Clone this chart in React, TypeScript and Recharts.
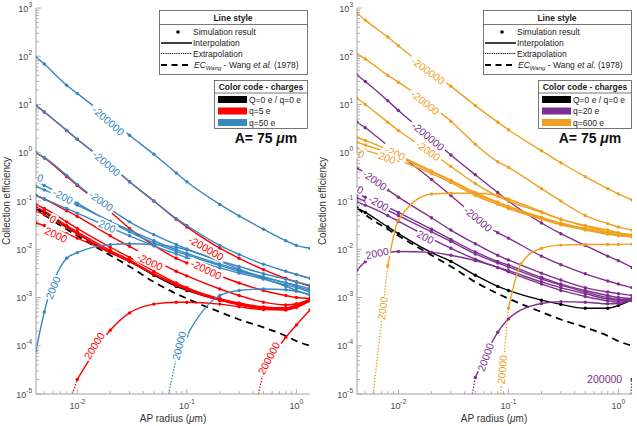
import React from 'react';
import { LineChart, Line, XAxis, YAxis, ReferenceDot } from 'recharts';

const RED = '#ff0000';
const BLUE = '#3787c0';
const PURPLE = '#7e2f8e';
const ORANGE = '#f0a020';
const BLACK = '#000000';
const AXIS = '#a0a0a0';
const TICK_TEXT = '#4a4a4a';
const FONT = '"Liberation Sans", Arial, Helvetica, sans-serif';

const X_DOMAIN = [0.0042, 1.33];
const Y_DOMAIN = [1e-5, 1e3];

// AP radius of the simulated points (um)
const radius = [0.0042, 0.005, 0.008, 0.01, 0.02, 0.03, 0.05, 0.08, 0.1, 0.2, 0.3, 0.5, 0.8, 1, 1.33];

// reference + uncharged case (both panels)
const ecWang = [0.072, 0.052, 0.026, 0.019, 0.0075, 0.0044, 0.0021, 0.0012, 0.00095, 0.0005, 0.00035, 0.00024, 0.00016, 0.000125, 0.0001];
const neutral = [0.072, 0.058, 0.029, 0.021, 0.0085, 0.0056, 0.0029, 0.0017, 0.0014, 0.00088, 0.00072, 0.0006, 0.0006, 0.00068, 0.0009];

// q = 5 e (red), by droplet charge Q
const q5_m200000 = [9.5, 7, 2.9, 1.9, 0.55, 0.25, 0.1, 0.042, 0.029, 0.0105, 0.0065, 0.0038, 0.0025, 0.0021, 0.0017];
const q5_m20000 = [1.0, 0.78, 0.32, 0.21, 0.06, 0.027, 0.012, 0.0065, 0.0052, 0.0028, 0.002, 0.0014, 0.0011, 0.001, 0.00095];
const q5_m2000 = [0.13, 0.11, 0.063, 0.048, 0.019, 0.0115, 0.006, 0.0035, 0.0028, 0.0015, 0.0011, 0.0008, 0.0007, 0.00074, 0.00092];
const q5_m200 = [0.085, 0.07, 0.037, 0.027, 0.011, 0.0068, 0.0035, 0.002, 0.0016, 0.00095, 0.00077, 0.00064, 0.00061, 0.0007, 0.0009];
const q5_0 = [0.075, 0.062, 0.031, 0.023, 0.0095, 0.006, 0.0031, 0.0018, 0.0015, 0.0009, 0.00074, 0.00062, 0.0006, 0.00068, 0.00089];
const q5_200 = [0.062, 0.052, 0.028, 0.021, 0.0088, 0.0057, 0.003, 0.0018, 0.00145, 0.00088, 0.00072, 0.0006, 0.00059, 0.00067, 0.00088];
const q5_2000 = [0.035, 0.031, 0.021, 0.017, 0.0085, 0.0055, 0.0031, 0.0019, 0.0015, 0.00088, 0.0007, 0.00058, 0.00056, 0.00064, 0.00087];
const q5_20000 = [null, null, null, 2e-5, 2.1e-4, 4.8e-4, 7.3e-4, 8e-4, 8e-4, 7.3e-4, 6.4e-4, 5.6e-4, 5.5e-4, 6.2e-4, 8.5e-4];
const q5_200000 = [null, null, null, null, null, null, null, null, null, null, null, 3e-5, 1.5e-4, 2.7e-4, 5.5e-4];
const q5_20000_extR = [0.009, 0.01];
const q5_20000_extEC = [1e-5, 2e-5];
const q5_200000_extR = [0.45, 0.5];
const q5_200000_extEC = [1e-5, 3e-5];

// q = 50 e (blue)
const q50_m200000 = [96, 69, 25, 17, 4.9, 2.3, 0.93, 0.38, 0.25, 0.085, 0.049, 0.026, 0.015, 0.012, 0.0105];
const q50_m20000 = [9.5, 7, 2.9, 1.9, 0.55, 0.25, 0.1, 0.043, 0.031, 0.012, 0.0078, 0.0049, 0.0035, 0.003, 0.0025];
const q50_m2000 = [1.0, 0.8, 0.34, 0.22, 0.068, 0.037, 0.02, 0.0125, 0.0102, 0.0058, 0.0044, 0.0031, 0.0024, 0.0021, 0.0018];
const q50_m200 = [0.2, 0.17, 0.105, 0.082, 0.038, 0.025, 0.015, 0.0098, 0.0082, 0.0049, 0.0037, 0.0027, 0.002, 0.0018, 0.0015];
const q50_0 = [0.26, 0.21, 0.12, 0.09, 0.037, 0.023, 0.0135, 0.009, 0.0076, 0.0046, 0.0035, 0.0026, 0.002, 0.0017, 0.0014];
const q50_200 = [0.13, 0.11, 0.07, 0.056, 0.028, 0.019, 0.0118, 0.008, 0.0067, 0.0041, 0.0032, 0.0024, 0.0018, 0.0016, 0.0013];
const q50_2000 = [8e-5, 5e-4, 6.5e-3, 8.5e-3, 0.0125, 0.013, 0.0125, 0.011, 0.0097, 0.0056, 0.0039, 0.0025, 0.0017, 0.0014, 0.0011];
const q50_20000 = [null, null, null, null, null, null, null, 5.6e-5, 1.6e-4, 1.1e-3, 1.4e-3, 1.5e-3, 1.45e-3, 1.35e-3, 1.15e-3];
const q50_20000_extR = [0.068, 0.08];
const q50_20000_extEC = [1e-5, 5.6e-5];

// q = 20 e (purple)
const q20_m200000 = [41, 30, 12, 7.5, 2.0, 0.9, 0.35, 0.15, 0.1, 0.035, 0.021, 0.012, 0.0072, 0.0058, 0.0042];
const q20_m20000 = [4.3, 3.3, 1.4, 0.95, 0.28, 0.13, 0.048, 0.022, 0.017, 0.0072, 0.0048, 0.0031, 0.0022, 0.0019, 0.0016];
const q20_m2000 = [0.48, 0.38, 0.17, 0.12, 0.045, 0.025, 0.013, 0.0075, 0.006, 0.0032, 0.0023, 0.0016, 0.0013, 0.0012, 0.0011];
const q20_m200 = [0.14, 0.12, 0.075, 0.058, 0.026, 0.016, 0.0088, 0.0056, 0.0047, 0.0026, 0.0019, 0.0014, 0.0011, 0.001, 0.00095];
const q20_0 = [0.115, 0.1, 0.064, 0.05, 0.023, 0.0145, 0.008, 0.0052, 0.0043, 0.0024, 0.0018, 0.0013, 0.001, 0.00092, 0.0009];
const q20_200 = [0.095, 0.082, 0.05, 0.038, 0.0165, 0.0105, 0.0062, 0.0042, 0.0036, 0.0021, 0.0016, 0.0012, 0.00093, 0.00087, 0.00086];
const q20_2000 = [0.0037, 0.0055, 0.0085, 0.009, 0.0086, 0.0075, 0.0058, 0.0042, 0.0034, 0.0019, 0.0014, 0.00105, 0.00085, 0.0008, 0.00088];
const q20_20000 = [null, null, null, null, null, null, 2.2e-5, 1.9e-4, 3.6e-4, 7.5e-4, 8.2e-4, 8e-4, 7.4e-4, 7.5e-4, 9e-4];
const q20_200000 = [null, null, null, null, null, null, null, null, null, null, null, null, null, null, 2e-5];
const q20_20000_extR = [0.047, 0.05];
const q20_20000_extEC = [1e-5, 2.2e-5];
const q20_200000_extR = [1.3, 1.33];
const q20_200000_extEC = [1e-5, 2e-5];

// q = 600 e (orange)
const q600_m200000 = [790, 560, 250, 165, 48, 24, 9.5, 4.3, 3.0, 1.1, 0.62, 0.32, 0.18, 0.14, 0.105];
const q600_m20000 = [112, 88, 40, 29, 9.5, 4.5, 1.5, 0.65, 0.5, 0.18, 0.1, 0.05, 0.034, 0.029, 0.025];
const q600_m2000 = [13.5, 10, 4.3, 2.9, 1.0, 0.52, 0.23, 0.125, 0.1, 0.058, 0.042, 0.031, 0.025, 0.022, 0.02];
const q600_m200 = [2.1, 1.8, 1.15, 0.9, 0.42, 0.27, 0.15, 0.095, 0.078, 0.046, 0.035, 0.027, 0.022, 0.02, 0.019];
const q600_0 = [1.65, 1.45, 1.0, 0.82, 0.4, 0.26, 0.14, 0.09, 0.074, 0.044, 0.033, 0.026, 0.021, 0.0195, 0.0185];
const q600_200 = [1.25, 1.12, 0.82, 0.7, 0.37, 0.24, 0.13, 0.085, 0.07, 0.042, 0.032, 0.025, 0.0205, 0.019, 0.018];
const q600_2000 = [null, null, 0.0045, 0.04, 0.14, 0.145, 0.145, 0.13, 0.11, 0.06, 0.042, 0.03, 0.023, 0.021, 0.019];
const q600_20000R = [0.1, 0.13, 0.2, 0.3, 0.5, 0.8, 1, 1.33];
const q600_20000 = [6e-4, 5e-3, 0.0105, 0.0122, 0.0125, 0.0125, 0.0126, 0.0128];
const q600_2000_extR = [0.0059, 0.008];
const q600_2000_extEC = [1e-5, 0.0045];
const q600_20000_extR = [0.085, 0.1];
const q600_20000_extEC = [1e-5, 6e-4];

// curve labels (droplet charge Q)
const leftLabels = [
  { x: 0.0192, y: 4.6, text: '-200000', color: BLUE, angle: 41 },
  { x: 0.0185, y: 0.6, text: '-20000', color: BLUE, angle: 41 },
  { x: 0.0165, y: 0.1, text: '-2000', color: BLUE, angle: 36 },
  { x: 0.0074, y: 0.125, text: '-200', color: BLUE, angle: 28 },
  { x: 0.0046, y: 0.3, text: '0', color: BLUE, angle: 20 },
  { x: 0.0188, y: 0.03, text: '200', color: BLUE, angle: 25 },
  { x: 0.006, y: 0.0016, text: '2000', color: BLUE, angle: -68 },
  { x: 0.085, y: 0.0001, text: '20000', color: BLUE, angle: -76 },
  { x: 0.15, y: 0.0105, text: '-200000', color: RED, angle: 30 },
  { x: 0.15, y: 0.0038, text: '-20000', color: RED, angle: 25 },
  { x: 0.046, y: 0.0055, text: '-2000', color: RED, angle: 25 },
  { x: 0.006, y: 0.042, text: '0', color: RED, angle: 30 },
  { x: 0.0064, y: 0.02, text: '2000', color: RED, angle: 25 },
  { x: 0.0143, y: 0.0001, text: '20000', color: RED, angle: -58 },
  { x: 0.56, y: 0.000055, text: '200000', color: RED, angle: -62 },
];

const rightLabels = [
  { x: 0.0186, y: 50, text: '-200000', color: ORANGE, angle: 36 },
  { x: 0.0175, y: 11, text: '-20000', color: ORANGE, angle: 38 },
  { x: 0.0186, y: 2.2, text: '-200000', color: PURPLE, angle: 40 },
  { x: 0.0186, y: 1.1, text: '-2000', color: ORANGE, angle: 36 },
  { x: 0.0093, y: 0.98, text: '-200', color: ORANGE, angle: 25 },
  { x: 0.0046, y: 0.95, text: '0', color: ORANGE, angle: 25 },
  { x: 0.0079, y: 0.78, text: '200', color: ORANGE, angle: 20 },
  { x: 0.053, y: 0.042, text: '-20000', color: PURPLE, angle: 40 },
  { x: 0.0061, y: 0.27, text: '-2000', color: PURPLE, angle: 35 },
  { x: 0.0045, y: 0.17, text: '0', color: PURPLE, angle: 25 },
  { x: 0.0066, y: 0.09, text: '-200', color: PURPLE, angle: 30 },
  { x: 0.0176, y: 0.018, text: '200', color: PURPLE, angle: 28 },
  { x: 0.0064, y: 0.0083, text: '2000', color: PURPLE, angle: -12 },
  { x: 0.062, y: 0.000058, text: '20000', color: PURPLE, angle: -70 },
  { x: 0.0072, y: 0.0006, text: '2000', color: ORANGE, angle: -82 },
  { x: 0.088, y: 0.000032, text: '20000', color: ORANGE, angle: -85 },
  { x: 0.75, y: 0.00002, text: '200000', color: PURPLE, angle: 0 },
];

const xTicks: number[] = [];
[0.001, 0.01, 0.1].forEach((d) => {
  for (let k = 1; k <= 9; k++) {
    const v = +(k * d).toPrecision(3);
    if (v >= X_DOMAIN[0] && v <= X_DOMAIN[1]) xTicks.push(v);
  }
});
xTicks.push(1);
const yTicks: number[] = [];
for (let e = -5; e < 3; e++) {
  for (let k = 1; k <= 9; k++) yTicks.push(+(k * Math.pow(10, e)).toPrecision(3));
}
yTicks.push(1000);

const isMajor = (v: number) => Math.abs(Math.log10(v) - Math.round(Math.log10(v))) < 1e-6;
const expOf = (v: number) => String(Math.round(Math.log10(v)));

const pts = (xs: number[], ys: (number | null)[]) =>
  xs.map((x, i) => ({ x, y: ys[i] })).filter((p) => p.y != null);

type Curve = { key: string; data: any[]; color: string; style: 'solid' | 'dotted' | 'dashed'; markers: boolean };

const solid = (key: string, ys: (number | null)[], color: string, xs = radius): Curve => ({ key, data: pts(xs, ys), color, style: 'solid', markers: true });
const dotted = (key: string, xs: number[], ys: number[], color: string): Curve => ({ key, data: pts(xs, ys), color, style: 'dotted', markers: false });

const baseCurves: Curve[] = [
  { key: 'wang', data: pts(radius, ecWang), color: BLACK, style: 'dashed', markers: false },
  solid('neutral', neutral, BLACK),
];

const leftCurves: Curve[] = [
  ...baseCurves,
  solid('r-200000', q5_m200000, RED),
  solid('r-20000', q5_m20000, RED),
  solid('r-2000', q5_m2000, RED),
  solid('r-200', q5_m200, RED),
  solid('r0', q5_0, RED),
  solid('r200', q5_200, RED),
  solid('r2000', q5_2000, RED),
  solid('r20000', q5_20000, RED),
  solid('r200000', q5_200000, RED),
  dotted('r20000x', q5_20000_extR, q5_20000_extEC, RED),
  dotted('r200000x', q5_200000_extR, q5_200000_extEC, RED),
  solid('b-200000', q50_m200000, BLUE),
  solid('b-20000', q50_m20000, BLUE),
  solid('b-2000', q50_m2000, BLUE),
  solid('b-200', q50_m200, BLUE),
  solid('b0', q50_0, BLUE),
  solid('b200', q50_200, BLUE),
  solid('b2000', q50_2000, BLUE),
  solid('b20000', q50_20000, BLUE),
  dotted('b20000x', q50_20000_extR, q50_20000_extEC, BLUE),
];

const rightCurves: Curve[] = [
  ...baseCurves,
  solid('p-200000', q20_m200000, PURPLE),
  solid('p-20000', q20_m20000, PURPLE),
  solid('p-2000', q20_m2000, PURPLE),
  solid('p-200', q20_m200, PURPLE),
  solid('p0', q20_0, PURPLE),
  solid('p200', q20_200, PURPLE),
  solid('p2000', q20_2000, PURPLE),
  solid('p20000', q20_20000, PURPLE),
  solid('p200000', q20_200000, PURPLE),
  dotted('p20000x', q20_20000_extR, q20_20000_extEC, PURPLE),
  dotted('p200000x', q20_200000_extR, q20_200000_extEC, PURPLE),
  solid('o-200000', q600_m200000, ORANGE),
  solid('o-20000', q600_m20000, ORANGE),
  solid('o-2000', q600_m2000, ORANGE),
  solid('o-200', q600_m200, ORANGE),
  solid('o0', q600_0, ORANGE),
  solid('o200', q600_200, ORANGE),
  solid('o2000', q600_2000, ORANGE),
  solid('o20000', q600_20000, ORANGE, q600_20000R),
  dotted('o2000x', q600_2000_extR, q600_2000_extEC, ORANGE),
  dotted('o20000x', q600_20000_extR, q600_20000_extEC, ORANGE),
];

const XTick = (p: any) => {
  const { x, y, payload, side } = p;
  const v = payload.value;
  const major = isMajor(v);
  const len = major ? 5 : 3;
  const dir = side === 'bottom' ? -1 : 1;
  return (
    <g>
      <line x1={x} x2={x} y1={y} y2={y + dir * len} stroke={AXIS} strokeWidth={0.8} />
      {major && side === 'bottom' && (
        <text x={x} y={y + 15} textAnchor="middle" fontSize={9} fill={TICK_TEXT} fontFamily={FONT}>
          10<tspan dy={-5} fontSize={6.5}>{expOf(v)}</tspan>
        </text>
      )}
    </g>
  );
};

const YTick = (p: any) => {
  const { x, y, payload, side } = p;
  const v = payload.value;
  const major = isMajor(v);
  const len = major ? 5 : 3;
  const dir = side === 'left' ? 1 : -1;
  return (
    <g>
      <line x1={x} x2={x + dir * len} y1={y} y2={y} stroke={AXIS} strokeWidth={0.8} />
      {major && side === 'left' && (
        <text x={x - 4} y={y + 3.5} textAnchor="end" fontSize={9} fill={TICK_TEXT} fontFamily={FONT}>
          10<tspan dy={-5} fontSize={6.5}>{expOf(v)}</tspan>
        </text>
      )}
    </g>
  );
};

const CurveLabel = ({ cx, cy, text, color, angle }: any) => {
  const w = text.length * 5.9 + 2;
  return (
    <g transform={`translate(${cx},${cy}) rotate(${angle})`}>
      <rect x={-w / 2} y={-5.5} width={w} height={11} fill="#ffffff" />
      <text x={0} y={3.8} textAnchor="middle" fontSize={10.5} fill={color} fontFamily={FONT}>
        {text}
      </text>
    </g>
  );
};

function Panel({ left, width, rightMargin, curves, labels }: any) {
  return (
    <div style={{ position: 'absolute', left, top: 0 }}>
      <LineChart width={width} height={426} margin={{ top: 8, right: rightMargin, bottom: 0, left: 0 }}>
        <XAxis xAxisId="b" dataKey="x" type="number" scale="log" domain={X_DOMAIN} allowDataOverflow
          ticks={xTicks} interval={0} tickSize={0} tickMargin={0} tickLine={false} stroke={AXIS} height={32}
          tick={(p: any) => <XTick {...p} side="bottom" />} />
        <XAxis xAxisId="t" orientation="top" dataKey="x" type="number" scale="log" domain={X_DOMAIN} allowDataOverflow
          ticks={xTicks} interval={0} tickSize={0} tickMargin={0} tickLine={false} stroke={AXIS} height={0}
          tick={(p: any) => <XTick {...p} side="top" />} />
        <YAxis yAxisId="l" type="number" scale="log" domain={Y_DOMAIN} allowDataOverflow
          ticks={yTicks} interval={0} tickSize={0} tickMargin={0} tickLine={false} stroke={AXIS} width={36}
          tick={(p: any) => <YTick {...p} side="left" />} />
        <YAxis yAxisId="r" orientation="right" type="number" scale="log" domain={Y_DOMAIN} allowDataOverflow
          ticks={yTicks} interval={0} tickSize={0} tickMargin={0} tickLine={false} stroke={AXIS} width={0}
          tick={(p: any) => <YTick {...p} side="right" />} />
        {curves.map((c: Curve) => (
          <Line
            key={c.key}
            xAxisId="b"
            yAxisId="l"
            data={c.data}
            dataKey="y"
            type={c.style === 'dotted' ? 'linear' : 'monotone'}
            stroke={c.color}
            strokeWidth={c.style === 'dashed' ? 1.8 : c.style === 'dotted' ? 1.3 : 1.4}
            strokeDasharray={c.style === 'dashed' ? '7 5' : c.style === 'dotted' ? '1.5 1.5' : undefined}
            dot={c.markers ? { r: 1.7, fill: c.color, stroke: 'none' } : false}
            activeDot={false}
            isAnimationActive={false}
          />
        ))}
        {labels.map((l: any, i: number) => (
          <ReferenceDot key={i} xAxisId="b" yAxisId="l" x={l.x} y={l.y} r={0}
            shape={(p: any) => <CurveLabel cx={p.cx} cy={p.cy} {...l} />} />
        ))}
      </LineChart>
    </div>
  );
}

function LineStyleBox({ x0 }: { x0: number }) {
  const w = 148;
  const t = { fontSize: 8.5, fill: '#222' };
  return (
    <g>
      <rect x={x0 + 0.5} y={10.5} width={w} height={64} fill="#fff" stroke="#555" strokeWidth={0.8} />
      <text x={x0 + w / 2} y={20.5} textAnchor="middle" fontWeight="bold" {...t}>Line style</text>
      <line x1={x0} x2={x0 + w} y1={24.5} y2={24.5} stroke="#555" strokeWidth={0.8} />
      <circle cx={x0 + 19} cy={32} r={1.8} fill="#000" />
      <text x={x0 + 34} y={35} {...t}>Simulation result</text>
      <line x1={x0 + 2} x2={x0 + 33} y1={43} y2={43} stroke="#000" strokeWidth={1.5} />
      <text x={x0 + 34} y={46} {...t}>Interpolation</text>
      <line x1={x0 + 2} x2={x0 + 33} y1={53.5} y2={53.5} stroke="#000" strokeWidth={1.2} strokeDasharray="1.2 1" />
      <text x={x0 + 34} y={56.5} {...t}>Extrapolation</text>
      <line x1={x0 + 2} x2={x0 + 33} y1={65} y2={65} stroke="#000" strokeWidth={1.8} strokeDasharray="6 4.5" />
      <text x={x0 + 35} y={67.5} {...t}>
        <tspan fontStyle="italic">EC</tspan>
        <tspan fontStyle="italic" fontSize={6} dy={2.5}>Wang</tspan>
        <tspan dy={-2.5}> - Wang </tspan>
        <tspan fontStyle="italic">et al.</tspan>
        <tspan> (1978)</tspan>
      </text>
    </g>
  );
}

function ColorBox({ x0, entries }: { x0: number; entries: { color: string; label: string }[] }) {
  const w = 93;
  const t = { fontSize: 8.5, fill: '#222' };
  return (
    <g>
      <rect x={x0 + 0.5} y={80.5} width={w} height={48} fill="#fff" stroke="#555" strokeWidth={0.8} />
      <text x={x0 + w / 2 + 0.5} y={89.5} textAnchor="middle" fontWeight="bold" {...t}>Color code - charges</text>
      <line x1={x0} x2={x0 + w} y1={93} y2={93} stroke="#555" strokeWidth={0.8} />
      {entries.map((e, i) => (
        <g key={i}>
          <rect x={x0 + 4} y={96 + i * 11.5} width={29} height={7} fill={e.color} />
          <text x={x0 + 35} y={102.5 + i * 11.5} {...t}>{e.label}</text>
        </g>
      ))}
    </g>
  );
}

function Overlay() {
  const title = { fontSize: 10, fill: '#333' };
  return (
    <svg width={637} height={426} style={{ position: 'absolute', left: 0, top: 0, pointerEvents: 'none' }} fontFamily={FONT}>
      <text x={173} y={422} textAnchor="middle" {...title}>
        AP radius (<tspan fontStyle="italic">μ</tspan>m)
      </text>
      <text x={494} y={422} textAnchor="middle" {...title}>
        AP radius (<tspan fontStyle="italic">μ</tspan>m)
      </text>
      <text x={10} y={201} textAnchor="middle" transform="rotate(-90 10 201)" {...title}>Collection efficiency</text>
      <text x={326} y={201} textAnchor="middle" transform="rotate(-90 326 201)" {...title}>Collection efficiency</text>

      <LineStyleBox x0={159} />
      <ColorBox x0={214} entries={[
        { color: BLACK, label: 'Q=0 e / q=0 e' },
        { color: RED, label: 'q=5 e' },
        { color: BLUE, label: 'q=50 e' },
      ]} />
      <text x={266} y={143} textAnchor="middle" fontSize={14} fontWeight="bold" fill="#111">
        A= 75 <tspan fontStyle="italic">μ</tspan>m
      </text>

      <LineStyleBox x0={483} />
      <ColorBox x0={538} entries={[
        { color: BLACK, label: 'Q=0 e / q=0 e' },
        { color: PURPLE, label: 'q=20 e' },
        { color: ORANGE, label: 'q=600 e' },
      ]} />
      <text x={590} y={143} textAnchor="middle" fontSize={14} fontWeight="bold" fill="#111">
        A= 75 <tspan fontStyle="italic">μ</tspan>m
      </text>
    </svg>
  );
}

export default function App() {
  return (
    <div style={{ position: 'absolute', left: 0, top: 0, width: 637, height: 426, background: '#fff', fontFamily: FONT }}>
      <Panel left={0} width={318} rightMargin={8} curves={leftCurves} labels={leftLabels} />
      <Panel left={321} width={316} rightMargin={5} curves={rightCurves} labels={rightLabels} />
      <Overlay />
    </div>
  );
}
